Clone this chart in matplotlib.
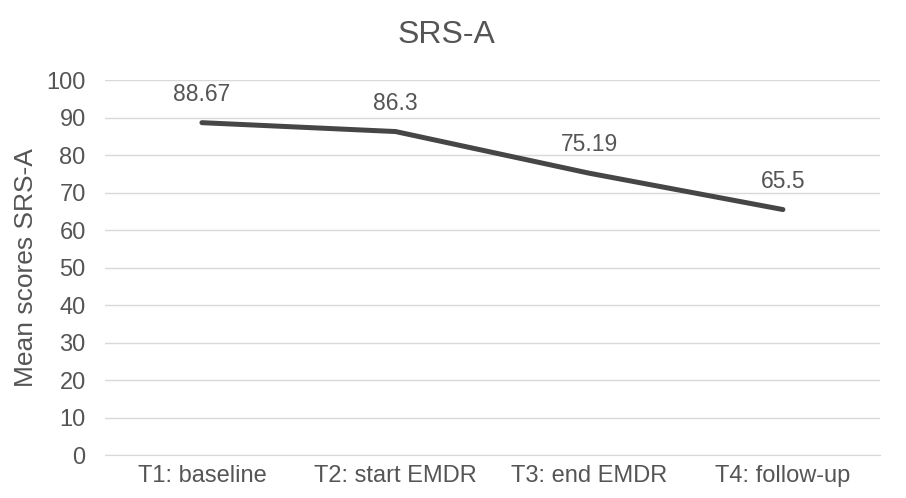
import matplotlib
matplotlib.use('Agg')
import matplotlib.pyplot as plt

categories = ['T1: baseline', 'T2: start EMDR', 'T3: end EMDR', 'T4: follow-up']
scores = [88.67, 86.3, 75.19, 65.5]
labels = ['88.67', '86.3', '75.19', '65.5']

plt.rcParams['font.family'] = ['Liberation Sans', 'DejaVu Sans']
txt = '#555555'

fig = plt.figure(figsize=(9.06, 4.98), dpi=100)
ax = fig.add_axes([0.116, 0.086, 0.855, 0.753])

x = range(len(categories))
ax.plot(x, scores, color='#464646', linewidth=3.6, solid_capstyle='round',
        solid_joinstyle='round')
for xi, yi, lab in zip(x, scores, labels):
    ax.annotate(lab, (xi, yi), xytext=(0, 20.5), textcoords='offset points',
                ha='center', va='center', fontsize=16.5, color=txt)

ax.set_xlim(-0.5, len(categories) - 0.5)
ax.set_ylim(0, 100)
ax.set_yticks(range(0, 101, 10))
ax.set_xticks(list(x))
ax.set_xticklabels(categories)
ax.grid(axis='y', color='#d9d9d9', linewidth=1)
ax.set_axisbelow(True)
for s in ['top', 'right', 'left']:
    ax.spines[s].set_visible(False)
ax.spines['bottom'].set_color('#d9d9d9')
ax.tick_params(axis='both', length=0, labelsize=17, colors=txt)
ax.tick_params(axis='y', pad=14)
ax.tick_params(axis='x', pad=7)
ax.set_ylabel('Mean scores SRS-A', fontsize=19, color=txt, labelpad=6)
fig.text(0.493, 0.93, 'SRS-A', ha='center', va='center', fontsize=23, color=txt)

fig.savefig('out.png', dpi=100)
